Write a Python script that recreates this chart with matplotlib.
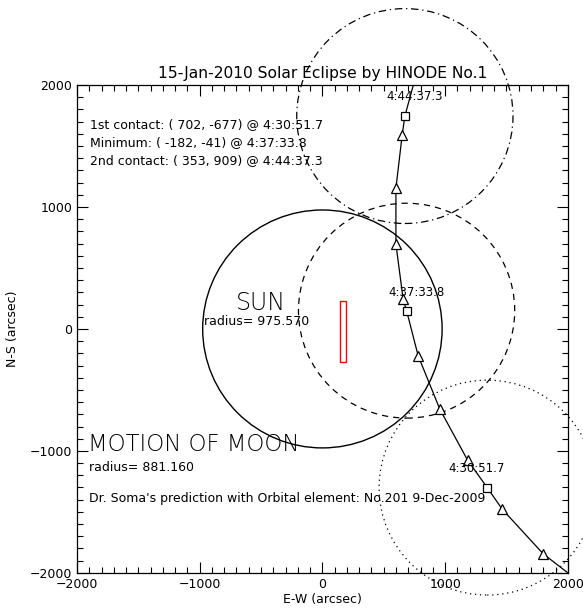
import matplotlib
matplotlib.use('Agg')
import matplotlib.pyplot as plt
from matplotlib.patches import Circle, Rectangle
from matplotlib.ticker import MultipleLocator

# predicted path of the moon centre (arcsec from sun centre)
track_x = [741, 672, 650, 599, 599, 658, 686, 780, 957, 1183, 1343, 1465, 1799, 2000]
track_y = [2000, 1746, 1590, 1153, 697, 243, 150, -219, -658, -1076, -1301, -1478, -1844, -2000]
track_mark = ['', 's', '^', '^', '^', '^', 's', '^', '^', '^', 's', '^', '^', '']

# moon position at 1st contact, minimum, 2nd contact
contact_x = [1343, 686, 672]
contact_y = [-1301, 150, 1746]
contact_time = ['4:30:51.7', '4:37:33.8', '4:44:37.3']

sun_radius = 975.570
moon_radius = 881.160

# XRT field of view
fov_x = [143, 189]
fov_y = [-273, 232]

info_lines = [
    '1st contact: ( 702, -677) @ 4:30:51.7',
    'Minimum: ( -182, -41) @ 4:37:33.8',
    '2nd contact: ( 353, 909) @ 4:44:37.3',
]

fig = plt.figure(figsize=(5.83, 6.12), dpi=100)
ax = fig.add_axes([0.132, 0.064, 0.842, 0.797])
ax.set_xlim(-2000, 2000)
ax.set_ylim(-2000, 2000)

# sun
ax.add_patch(Circle((0, 0), sun_radius, fill=False, ec='black', lw=1.0, clip_on=False))

# moon at each contact
styles = [(0, (1, 3)), (0, (5, 4)), (0, (6, 3, 1, 3))]
for cx, cy, ls in zip(contact_x, contact_y, styles):
    ax.add_patch(Circle((cx, cy), moon_radius, fill=False, ec='black', lw=0.9,
                        ls=ls, clip_on=False))

# track
ax.plot(track_x, track_y, color='black', lw=0.9)
tx = [x for x, m in zip(track_x, track_mark) if m == '^']
ty = [y for y, m in zip(track_y, track_mark) if m == '^']
sx = [x for x, m in zip(track_x, track_mark) if m == 's']
sy = [y for y, m in zip(track_y, track_mark) if m == 's']
ax.plot(tx, ty, ls='none', marker='^', ms=7, mfc='white', mec='black', mew=0.9)
ax.plot(sx, sy, ls='none', marker='s', ms=6.2, mfc='white', mec='black', mew=0.9)

# time labels
offsets = [(-8, 14), (7, 13), (7, 14)]
for cx, cy, t, off in zip(contact_x, contact_y, contact_time, offsets):
    ax.annotate(t, (cx, cy), xytext=off, textcoords='offset points',
                ha='center', va='center', fontsize=8.5)

ax.add_patch(Rectangle((fov_x[0], fov_y[0]), fov_x[1] - fov_x[0], fov_y[1] - fov_y[0],
                       fill=False, ec='red', lw=1.0))

for i, line in enumerate(info_lines):
    ax.text(-1894, 1680 - 148 * i, line, fontsize=9, va='center', ha='left')

ax.text(-505, 213, 'SUN', fontsize=17, fontweight='light', ha='center', va='center')
ax.text(-538, 57, 'radius= %.3f' % sun_radius, fontsize=9, ha='center', va='center')
ax.text(-1910, -951, 'MOTION OF MOON', fontsize=16.5, fontweight='light', ha='left', va='center')
ax.text(-1900, -1139, 'radius= %.3f' % moon_radius, fontsize=9, ha='left', va='center')
ax.text(-1900, -1393, "Dr. Soma's prediction with Orbital element: No.201 9-Dec-2009",
        fontsize=9, ha='left', va='center')

ax.set_title('15-Jan-2010 Solar Eclipse by HINODE No.1', fontsize=11.2, pad=5)
ax.set_xlabel('E-W (arcsec)', fontsize=9, labelpad=2)
ax.set_ylabel('N-S (arcsec)', fontsize=9, labelpad=8)

ax.xaxis.set_major_locator(MultipleLocator(1000))
ax.yaxis.set_major_locator(MultipleLocator(1000))
ax.xaxis.set_minor_locator(MultipleLocator(100))
ax.yaxis.set_minor_locator(MultipleLocator(100))
ax.tick_params(which='both', direction='in', top=True, right=True, labelsize=9, width=0.8)
ax.tick_params(which='major', length=8)
ax.tick_params(which='minor', length=4)
for s in ax.spines.values():
    s.set_linewidth(0.9)

fig.savefig('out.png', dpi=100)
